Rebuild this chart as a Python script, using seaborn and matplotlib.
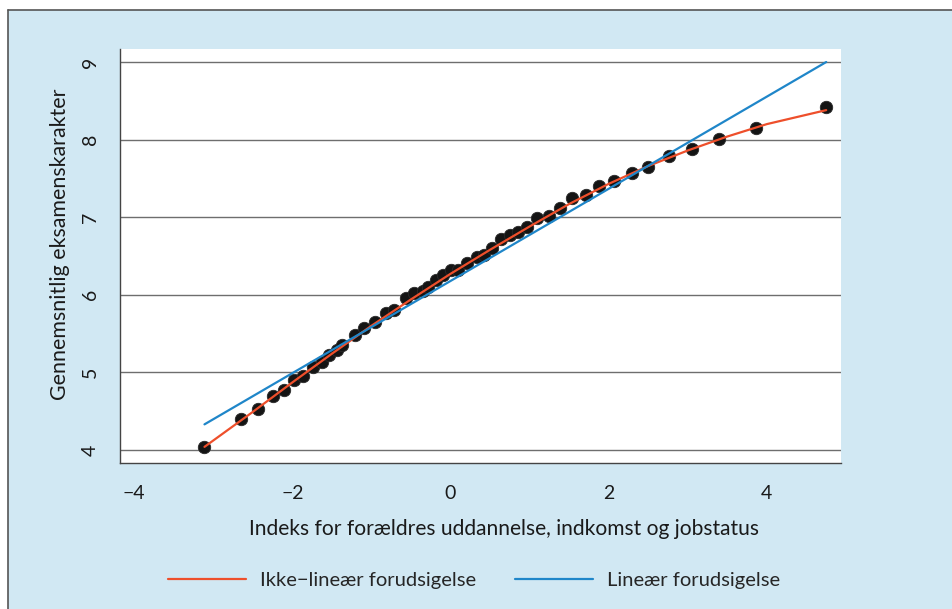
import matplotlib
matplotlib.use("Agg")
import matplotlib.pyplot as plt
from matplotlib.patches import Rectangle
from matplotlib.lines import Line2D
import seaborn as sns
import pandas as pd

# Group means: parental SES index vs. average exam grade
index_x = [-3.11, -2.65, -2.43, -2.25, -2.10, -1.98, -1.86, -1.74, -1.63, -1.54,
           -1.44, -1.37, -1.21, -1.09, -0.96, -0.81, -0.71, -0.56, -0.46, -0.35,
           -0.28, -0.18, -0.10, 0.01, 0.10, 0.21, 0.33, 0.42, 0.53, 0.64,
           0.75, 0.85, 0.97, 1.10, 1.24, 1.38, 1.54, 1.71, 1.88, 2.07,
           2.29, 2.50, 2.76, 3.05, 3.39, 3.86, 4.75]
grade_y = [4.04, 4.40, 4.53, 4.70, 4.77, 4.90, 4.95, 5.07, 5.13, 5.22,
           5.29, 5.35, 5.48, 5.57, 5.65, 5.77, 5.80, 5.96, 6.02, 6.05,
           6.10, 6.19, 6.26, 6.32, 6.32, 6.41, 6.49, 6.51, 6.60, 6.72,
           6.77, 6.81, 6.87, 6.99, 7.02, 7.12, 7.25, 7.29, 7.40, 7.47,
           7.57, 7.65, 7.79, 7.88, 8.01, 8.15, 8.42]

# Non-linear prediction
nonlin_x = [-3.11, -2.5, -2.0, -1.5, -1.0, -0.5, 0.0, 0.5, 1.0, 1.5,
            2.0, 2.5, 3.0, 3.5, 4.0, 4.75]
nonlin_y = [4.04, 4.49, 4.87, 5.24, 5.60, 5.94, 6.27, 6.58, 6.88, 7.17,
            7.43, 7.66, 7.86, 8.04, 8.20, 8.38]

# Linear prediction
lin_x = [-3.11, 4.75]
lin_y = [4.33, 9.00]

x_ticks = [-4, -2, 0, 2, 4]
y_ticks = [4, 5, 6, 7, 8, 9]
x_label = "Indeks for forældres uddannelse, indkomst og jobstatus"
y_label = "Gennemsnitlig eksamenskarakter"
legend_labels = ["Ikke\u2212lineær forudsigelse", "Lineær forudsigelse"]

RED = "#ee4f2b"
BLUE = "#1f86c9"
BG = "#d1e8f3"
AX_COL = "#444444"

sns.set_style("white")
plt.rcParams["font.family"] = ["Lato", "DejaVu Sans"]
plt.rcParams["axes.unicode_minus"] = True

W, H = 953, 609
fig = plt.figure(figsize=(W / 100, H / 100), dpi=100, facecolor="white")

# light blue panel with a rule on its top and left edges
x0, ytop = 8 / W, 1 - 10 / H
fig.patches.append(Rectangle((x0, 0), 1 - x0, ytop, transform=fig.transFigure,
                             facecolor=BG, edgecolor="none", zorder=-5))
fig.lines.append(Line2D([x0, 1], [ytop, ytop], transform=fig.transFigure,
                        color="#555555", lw=1.2, zorder=-4))
fig.lines.append(Line2D([x0, x0], [0, ytop], transform=fig.transFigure,
                        color="#555555", lw=1.2, zorder=-4))

ax = fig.add_axes([120 / W, 1 - 463 / H, (841 - 120) / W, (463 - 49) / H])
ax.set_zorder(2)
ax.set_facecolor("white")

pts = pd.DataFrame({"x": index_x, "y": grade_y})
nl = pd.DataFrame({"x": nonlin_x, "y": nonlin_y})
li = pd.DataFrame({"x": lin_x, "y": lin_y})

sns.scatterplot(data=pts, x="x", y="y", ax=ax, s=80, color="#141414",
                edgecolor="#2a2a2a", linewidth=0.6, zorder=3, legend=False)
sns.lineplot(data=nl, x="x", y="y", ax=ax, color=RED, lw=1.6, zorder=4,
             sort=False, estimator=None, legend=False)
sns.lineplot(data=li, x="x", y="y", ax=ax, color=BLUE, lw=1.6, zorder=4,
             sort=False, estimator=None, legend=False)

ax.set_xlim(-4.178, 4.937)
ax.set_ylim(3.832, 9.168)
ax.set_xticks(x_ticks)
ax.set_yticks(y_ticks)
ax.set_xticklabels([f"{t}".replace("-", "\u2212") for t in x_ticks])
ax.set_yticklabels([str(t) for t in y_ticks], rotation=90, va="center")

for y in y_ticks:
    ax.axhline(y, color="#6e6e6e", lw=1.0, zorder=1)

for side in ["top", "right"]:
    ax.spines[side].set_visible(False)
for side in ["left", "bottom"]:
    ax.spines[side].set_color(AX_COL)
    ax.spines[side].set_linewidth(1.0)

ax.tick_params(axis="both", direction="out", length=7, width=1.0,
               color=AX_COL, labelsize=14, labelcolor="#1a1a1a")
ax.tick_params(axis="x", pad=9)
ax.tick_params(axis="y", pad=8)

ax.set_xlabel(x_label, fontsize=15.1, color="#1a1a1a", labelpad=12)
ax.xaxis.set_label_coords(0.533, -0.135)
ax.set_ylabel(y_label, fontsize=15.4, color="#1a1a1a", labelpad=12)
ax.yaxis.set_label_coords(-0.069, 0.529)

handles = [Line2D([], [], color=RED, lw=1.6), Line2D([], [], color=BLUE, lw=1.6)]
fig.legend(handles, legend_labels, loc="center", ncol=2, frameon=False,
           bbox_to_anchor=(474 / W, 1 - 580 / H), fontsize=14.5,
           handlelength=3.9, handletextpad=0.7, columnspacing=1.9)

fig.savefig("out.png", dpi=100, facecolor=fig.get_facecolor())
